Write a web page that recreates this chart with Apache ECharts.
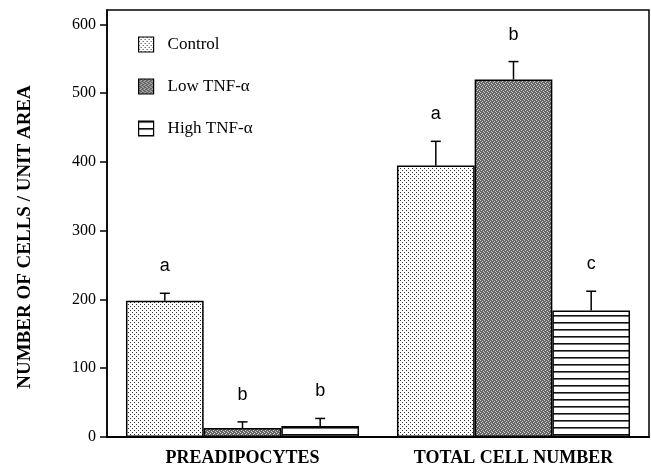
<!DOCTYPE html>
<html>
<head>
<meta charset="utf-8">
<script src="https://cdn.jsdelivr.net/npm/echarts@6/dist/echarts.min.js"></script>
<style>
  html, body { margin: 0; padding: 0; background: #fff; }
  #chart { width: 651px; height: 469px; }
</style>
</head>
<body>
<div id="chart"></div>
<script>
// ---- Data ----
const categories = ['PREADIPOCYTES', 'TOTAL CELL NUMBER'];
const seriesNames = ['Control', 'Low TNF-α', 'High TNF-α'];
const controlValues = [198, 395];
const lowValues = [13, 520];
const highValues = [16, 184];
const controlErr = [11, 35];
const lowErr = [9, 26];
const highErr = [11, 28];
const controlLetters = ['a', 'a'];
const lowLetters = ['b', 'b'];
const highLetters = ['b', 'c'];
const yTicks = [0, 100, 200, 300, 400, 500, 600];
const yTitle = 'NUMBER OF CELLS / UNIT AREA';

// ---- Patterns ----
function makePattern(w, h, draw) {
  const c = document.createElement('canvas');
  c.width = w; c.height = h;
  const ctx = c.getContext('2d');
  draw(ctx);
  return { image: c, repeat: 'repeat' };
}
const controlPattern = makePattern(4, 4, ctx => {
  ctx.fillStyle = '#fff'; ctx.fillRect(0, 0, 4, 4);
  ctx.fillStyle = '#333';
  ctx.fillRect(0, 0, 1, 1);
  ctx.fillRect(2, 2, 1, 1);
});
const lowPattern = makePattern(4, 4, ctx => {
  ctx.fillStyle = '#666'; ctx.fillRect(0, 0, 4, 4);
  ctx.fillStyle = '#cfcfcf';
  ctx.fillRect(0, 0, 1, 1);
  ctx.fillRect(2, 1, 1, 1);
  ctx.fillRect(1, 2, 1, 1);
  ctx.fillRect(3, 3, 1, 1);
});
const highPattern = makePattern(4, 7, ctx => {
  ctx.fillStyle = '#fff'; ctx.fillRect(0, 0, 4, 7);
  ctx.fillStyle = '#111';
  ctx.fillRect(0, 0, 4, 1.6);
});

const patterns = [controlPattern, lowPattern, highPattern];
const valueSets = [controlValues, lowValues, highValues];
const errSets = [controlErr, lowErr, highErr];
const letterSets = [controlLetters, lowLetters, highLetters];

const CAT_GAP = 0.14;

const barSeries = seriesNames.map((name, i) => ({
  name: name,
  type: 'bar',
  data: valueSets[i],
  barGap: '0%',
  barCategoryGap: (CAT_GAP * 100) + '%',
  itemStyle: { color: patterns[i], borderColor: '#000', borderWidth: 1.5 },
  emphasis: { disabled: true },
  z: 2
}));

const errData = [];
const errLetters = [];
for (let s = 0; s < 3; s++) {
  for (let c = 0; c < categories.length; c++) {
    errData.push([c, s, valueSets[s][c], valueSets[s][c] + errSets[s][c]]);
    errLetters.push(letterSets[s][c]);
  }
}

const errorSeries = {
  name: 'err',
  type: 'custom',
  z: 5,
  data: errData,
  encode: { x: 0, y: 3 },
  renderItem: function (params, api) {
    const cat = api.value(0);
    const s = api.value(1);
    const band = api.size([1, 0])[0];
    const bw = band * (1 - CAT_GAP) / 3;
    const base = api.coord([cat, 0]);
    const x = base[0] + (s - 1) * bw;
    const yTop = api.coord([cat, api.value(2)])[1];
    const yErr = api.coord([cat, api.value(3)])[1];
    const st = { stroke: '#000', lineWidth: 1.5 };
    return {
      type: 'group',
      children: [
        { type: 'line', shape: { x1: x, y1: yTop, x2: x, y2: yErr }, style: st },
        { type: 'line', shape: { x1: x - 5, y1: yErr, x2: x + 5, y2: yErr }, style: st },
        { type: 'text', x: x, y: yErr - 27,
          style: { text: errLetters[params.dataIndex], align: 'center', verticalAlign: 'middle',
                   font: '18px "Liberation Sans", Arial, sans-serif', fill: '#000' } }
      ]
    };
  }
};

const chart = echarts.init(document.getElementById('chart'), null, { renderer: 'canvas' });
chart.setOption({
  animation: false,
  backgroundColor: '#fff',
  grid: {
    left: 107, right: 2, top: 10, bottom: 32,
    show: true, borderColor: '#000', borderWidth: 1.5, backgroundColor: 'transparent'
  },
  legend: {
    data: seriesNames,
    orient: 'vertical',
    left: 133, top: 31,
    itemWidth: 15, itemHeight: 15, itemGap: 25,
    icon: 'rect',
    selectedMode: false,
    itemStyle: { borderColor: '#000', borderWidth: 1.2 },
    textStyle: { fontFamily: '"Liberation Serif", "Times New Roman", serif', fontSize: 17, color: '#000',
                 padding: [0, 0, 0, 9] }
  },
  xAxis: {
    type: 'category',
    data: categories,
    axisLine: { lineStyle: { color: '#000', width: 2 } },
    axisTick: { alignWithLabel: true, length: 6, lineStyle: { color: '#000', width: 1.2 } },
    axisLabel: { margin: 12, color: '#000', fontFamily: '"Liberation Serif", "Times New Roman", serif',
                 fontWeight: 'bold', fontSize: 18 },
    splitLine: { show: false }
  },
  yAxis: {
    type: 'value',
    min: 0, max: 621, interval: 100,
    axisLine: { show: true, lineStyle: { color: '#000', width: 1.5 } },
    axisTick: { show: true, length: 7, customValues: yTicks, lineStyle: { color: '#000', width: 1.5 } },
    axisLabel: { margin: 11, customValues: yTicks, color: '#000',
                 fontFamily: '"Liberation Serif", "Times New Roman", serif', fontSize: 16 },
    splitLine: { show: false }
  },
  graphic: [{
    type: 'text',
    x: 25, y: 237,
    rotation: Math.PI / 2,
    style: { text: yTitle, align: 'center', verticalAlign: 'middle',
             font: 'bold 19px "Liberation Serif", "Times New Roman", serif', fill: '#000' }
  }],
  series: barSeries.concat([errorSeries])
});
</script>
</body>
</html>
